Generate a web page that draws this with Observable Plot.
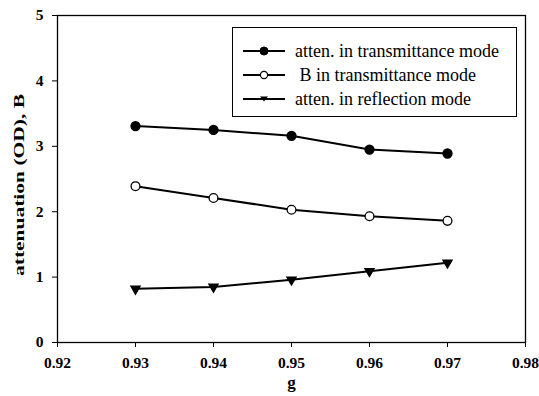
<!DOCTYPE html>
<html>
<head>
<meta charset="utf-8">
<script src="https://cdn.jsdelivr.net/npm/d3@7"></script>
<script src="https://cdn.jsdelivr.net/npm/@observablehq/plot@0.6"></script>
<style>
  html, body { margin: 0; padding: 0; background: #fff; }
  #wrap { position: relative; width: 539px; height: 396px; }
  #wrap svg text { font-family: "Liberation Serif", "Times New Roman", Times, serif; }
  #legend {
    position: absolute; left: 232px; top: 27px; width: 285px; height: 90px;
    border: 1.3px solid #000; box-sizing: border-box; background: #fff;
    font-family: "Liberation Serif", "Times New Roman", Times, serif; font-size: 18px; color: #000;
  }
  .row { position: absolute; left: 10px; height: 22px; display: flex; align-items: center; }
  .row svg { display: block; }
  .row span { margin-left: 10px; white-space: pre; line-height: 22px; }
</style>
</head>
<body>
<div id="wrap"></div>
<script>
const g = [0.93, 0.94, 0.95, 0.96, 0.97];
const attenTrans = [3.31, 3.25, 3.16, 2.95, 2.89];
const bTrans = [2.39, 2.21, 2.03, 1.93, 1.86];
const attenRefl = [0.82, 0.85, 0.96, 1.09, 1.22];
const seriesNames = ["atten. in transmittance mode", " B in transmittance mode", "atten. in reflection mode"];
const xTicks = [0.92, 0.93, 0.94, 0.95, 0.96, 0.97, 0.98];
const yTicks = [0, 1, 2, 3, 4, 5];

const rows = [];
g.forEach((x, i) => {
  rows.push({g: x, v: attenTrans[i], s: seriesNames[0]});
  rows.push({g: x, v: bTrans[i], s: seriesNames[1]});
  rows.push({g: x, v: attenRefl[i], s: seriesNames[2]});
});
const s1 = rows.filter(d => d.s === seriesNames[0]);
const s2 = rows.filter(d => d.s === seriesNames[1]);
const s3 = rows.filter(d => d.s === seriesNames[2]);

const chart = Plot.plot({
  width: 539,
  height: 396,
  marginLeft: 57,
  marginRight: 14,
  marginTop: 15,
  marginBottom: 54,
  style: {fontFamily: "Liberation Serif, Times New Roman, serif", fontSize: "15.5px", color: "#000", background: "#fff"},
  x: {domain: [0.92, 0.98], label: null},
  y: {domain: [0, 5], label: null},
  marks: [
    Plot.frame({stroke: "#000", strokeWidth: 1.3}),
    Plot.axisX({ticks: xTicks, tickFormat: d3.format(".2f"), tickSize: 5, tickPadding: 9, fontWeight: "bold", label: "g", labelAnchor: "center", labelOffset: 45, labelArrow: "none"}),
    Plot.axisY({ticks: yTicks, tickFormat: d3.format("d"), tickSize: 5, tickPadding: 9, fontWeight: "bold", label: "attenuation (OD), B", labelAnchor: "center", labelOffset: 44, labelArrow: "none"}),
    Plot.line(rows, {x: "g", y: "v", z: "s", stroke: "#000", strokeWidth: 2}),
    Plot.dot(s1, {x: "g", y: "v", r: 4.4, fill: "#000", stroke: "#000"}),
    Plot.dot(s2, {x: "g", y: "v", r: 4.4, fill: "#fff", stroke: "#000", strokeWidth: 1.3}),
    Plot.dot(s3, {x: "g", y: "v", symbol: "triangle", rotate: 180, r: 3.3, fill: "#000", stroke: "#000"})
  ]
});
const wrap = document.getElementById("wrap");
wrap.appendChild(chart);

// stretch the y-axis label along its length like the reference
d3.select(chart).selectAll('g[aria-label="y-axis label"] text')
  .attr("font-size", "14.5px")
  .attr("textLength", 182)
  .attr("lengthAdjust", "spacingAndGlyphs")
  .attr("dx", -6);
d3.select(chart).selectAll('g[aria-label="x-axis label"] text')
  .attr("font-size", "17px");

// legend overlay
const legend = document.createElement("div");
legend.id = "legend";
const icons = [
  '<circle cx="21" cy="11" r="4" fill="#000" stroke="#000"/>',
  '<circle cx="21" cy="11" r="3.6" fill="#fff" stroke="#000" stroke-width="1.2"/>',
  '<path d="M17,8.5 L25,8.5 L21,13.5 Z" fill="#000"/>'
];
seriesNames.forEach((name, i) => {
  const row = document.createElement("div");
  row.className = "row";
  row.style.top = (23 + i * 24 - 11) + "px";
  row.innerHTML = '<svg width="42" height="22"><line x1="0" y1="11" x2="42" y2="11" stroke="#000" stroke-width="2"/>' + icons[i] + '</svg><span>' + name + '</span>';
  legend.appendChild(row);
});
wrap.appendChild(legend);
</script>
</body>
</html>
